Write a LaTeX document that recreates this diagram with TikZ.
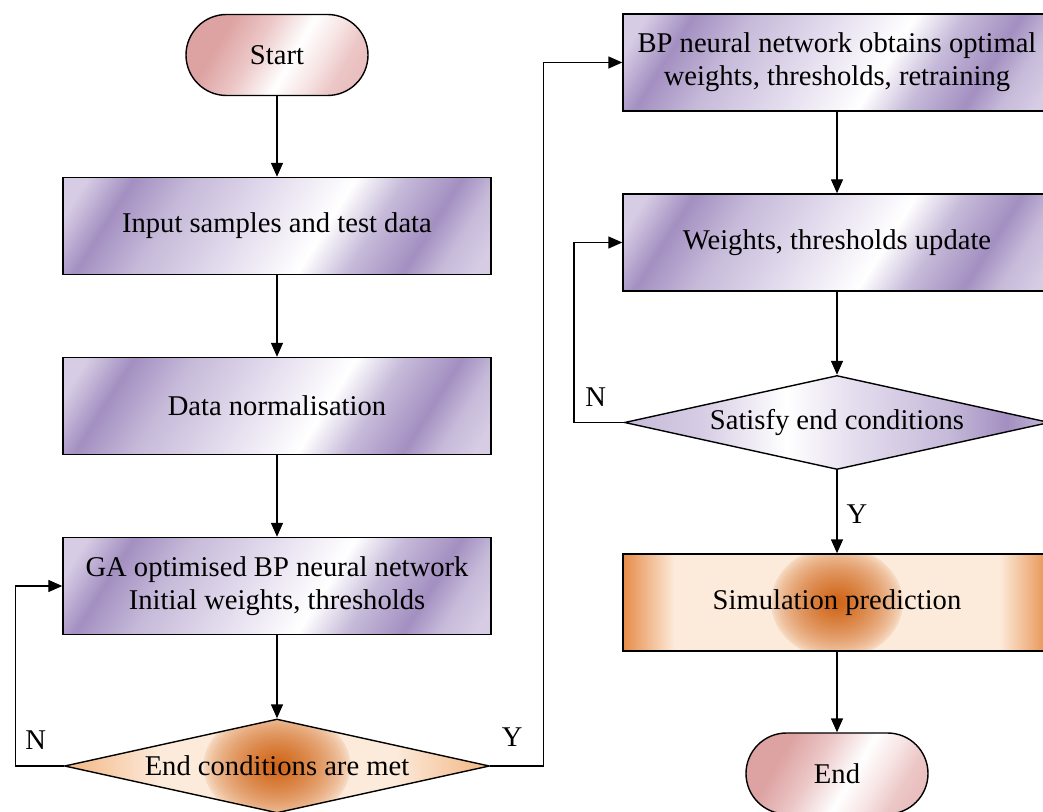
\documentclass[tikz,border=0pt]{standalone}
\usepackage{fontspec}
\setmainfont{Liberation Serif}
\usetikzlibrary{shapes.geometric,arrows.meta,positioning}

\definecolor{lavender}{RGB}{214,204,228}
\definecolor{violet1}{RGB}{163,143,193}
\definecolor{violet2}{RGB}{198,186,217}
\definecolor{violet3}{RGB}{228,221,238}
\definecolor{pink1}{RGB}{221,162,162}
\definecolor{pink2}{RGB}{236,198,198}
\definecolor{pink3}{RGB}{247,228,228}
\definecolor{orange1}{RGB}{208,100,22}
\definecolor{orange2}{RGB}{230,140,72}
\definecolor{orange3}{RGB}{244,190,145}
\definecolor{pale}{RGB}{252,234,218}

\pgfdeclarehorizontalshading{boxshade}{100bp}{color(0bp)=(lavender); color(19bp)=(lavender); color(25.5bp)=(violet1); color(34bp)=(violet2); color(46bp)=(violet3); color(57bp)=(white); color(64bp)=(violet2); color(72bp)=(violet1); color(77bp)=(violet2); color(82bp)=(lavender); color(100bp)=(lavender)}
\pgfdeclarehorizontalshading{termshade}{100bp}{color(0bp)=(pink1); color(30bp)=(pink1); color(42bp)=(pink2); color(55bp)=(white); color(64bp)=(pink3); color(72bp)=(pink2); color(100bp)=(pink1)}
\pgfdeclarehorizontalshading{condshade}{100bp}{color(0bp)=(violet2); color(25bp)=(violet2); color(34bp)=(lavender); color(44bp)=(white); color(52bp)=(violet3); color(63bp)=(violet2); color(70bp)=(violet1); color(75bp)=(violet2); color(100bp)=(violet2)}
\pgfdeclarehorizontalshading{simshade}{100bp}{color(0bp)=(orange2); color(25bp)=(orange2); color(31bp)=(pale); color(69bp)=(pale); color(75bp)=(orange2); color(100bp)=(orange2)}
\pgfdeclarehorizontalshading{metshade}{100bp}{color(0bp)=(orange3); color(27bp)=(orange3); color(36bp)=(pale); color(64bp)=(pale); color(73bp)=(orange3); color(100bp)=(orange3)}

\tikzset{
  proc/.style={draw, rectangle, minimum width=214pt, minimum height=48.5pt, shade, shading=boxshade, shading angle=-32, align=center, inner sep=2pt},
  term/.style={draw, rectangle, rounded corners=20.25pt, minimum width=91pt, minimum height=40.5pt, shade, shading=termshade, shading angle=-30},
  cond/.style={draw, diamond, aspect=4.5, inner sep=0pt, minimum width=212.5pt, minimum height=47pt, shade, shading=condshade},
  blob/.style={path picture={
      \foreach \k in {0,...,29} {
        \pgfmathsetmacro{\mix}{100*(\k/29)^0.6}
        \fill [orange1!\mix!pale] (path picture bounding box.center) ellipse [x radius={#1*(1-\k/30)}, y radius={29pt*(1-\k/30)}];
      }}},
}

\begin{document}
\begin{tikzpicture}[node distance=90pt, line width=0.7pt, >={Triangle[width=6pt,length=7pt]}, font=\fontsize{14.3}{16.5}\selectfont]
        \path[use as bounding box] (-138.5pt,27.5pt) rectangle (383pt,-378.5pt);
        % left column
        \node [term] (start) {Start};
        \node [proc, below of=start, yshift=4.5pt] (inp) {Input samples and test data};
        \node [proc, below of=inp] (norm) {Data normalisation};
        \node [proc, below of=norm] (gaopt) {GA optimised BP neural network\\Initial weights, thresholds};
        \node [cond, shading=metshade, blob=38pt, below of=gaopt] (met) {End conditions are met};
        % right column
        \node [proc, right of=start, xshift=190pt, yshift=-3.75pt] (bpnet) {BP neural network obtains optimal\\weights, thresholds, retraining};
        \node [proc, below of=bpnet] (upd) {Weights, thresholds update};
        \node [cond, below of=upd] (sat) {Satisfy end conditions};
        \node [proc, shading=simshade, shading angle=0, blob=34pt, below of=sat] (sim) {Simulation prediction};
        \node [term, below of=sim, yshift=4.5pt] (finish) {End};
        \draw [->] (start) -- (inp);
        \draw [->] (inp) -- (norm);
        \draw [->] (norm) -- (gaopt);
        \draw [->] (gaopt) -- (met);
        \draw [->] (met.west) -- ++(-24pt,0) |- (gaopt.west);
        \draw [->] (met.east) -- ++(26.5pt,0) |- (bpnet.west);
        \draw [->] (bpnet) -- (upd);
        \draw [->] (upd) -- (sat);
        \draw [->] (sat.west) -- ++(-25pt,0) |- (upd.west);
        \draw [->] (sat) -- (sim);
        \draw [->] (sim) -- (finish);
        % branch labels
        \node (nleft) at ([shift={(-14pt,13pt)}]met.west) {N};
        \node (yleft) at ([shift={(11pt,14.5pt)}]met.east) {Y};
        \node (nright) at ([shift={(-14pt,12.5pt)}]sat.west) {N};
        \node (yright) at ([shift={(10pt,-22pt)}]sat.south) {Y};
    \end{tikzpicture}
\end{document}
